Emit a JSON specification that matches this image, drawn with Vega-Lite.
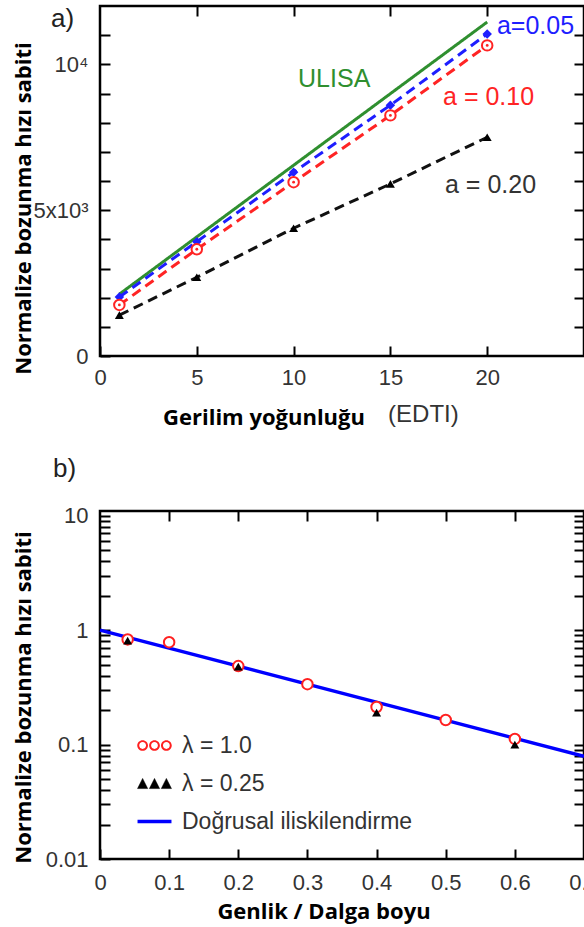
{
  "$schema": "https://vega.github.io/schema/vega-lite/v6.json",
  "padding": {"left": 10, "top": 3, "right": 0, "bottom": 0},
  "background": "white",
  "spacing": 24,
  "resolve": {"scale": {"color": "independent", "strokeDash": "independent"}},
  "config": {
    "view": {"stroke": "black", "strokeWidth": 2.5},
    "axis": {"grid": false, "domain": false, "tickColor": "black", "tickWidth": 2, "tickSize": -10, "labelFont": "Liberation Sans", "labelFontSize": 22, "labelColor": "#333333", "labelFlush": false, "labelOverlap": false, "labelBound": false, "titleFont": "Open Sans", "titleFontWeight": "bold", "titleFontSize": 22, "titleColor": "black"},
    "text": {"font": "Liberation Sans"}
  },
  "datasets": {
    "a": [
      {"s": "ULISA", "x": 1, "y": 2120}, {"s": "ULISA", "x": 20, "y": 11450},
      {"s": "a=0.05", "x": 1, "y": 2020}, {"s": "a=0.05", "x": 5, "y": 3920}, {"s": "a=0.05", "x": 10, "y": 6300}, {"s": "a=0.05", "x": 15, "y": 8600}, {"s": "a=0.05", "x": 20, "y": 11040},
      {"s": "a=0.10", "x": 1, "y": 1750}, {"s": "a=0.10", "x": 5, "y": 3660}, {"s": "a=0.10", "x": 10, "y": 5960}, {"s": "a=0.10", "x": 15, "y": 8250}, {"s": "a=0.10", "x": 20, "y": 10650},
      {"s": "a=0.20", "x": 1, "y": 1400}, {"s": "a=0.20", "x": 5, "y": 2700}, {"s": "a=0.20", "x": 10, "y": 4380}, {"s": "a=0.20", "x": 15, "y": 5900}, {"s": "a=0.20", "x": 20, "y": 7500}
    ],
    "b": [
      {"s": "λ = 1.0", "x": 0.04, "y": 0.83}, {"s": "λ = 1.0", "x": 0.1, "y": 0.785}, {"s": "λ = 1.0", "x": 0.2, "y": 0.485}, {"s": "λ = 1.0", "x": 0.3, "y": 0.337}, {"s": "λ = 1.0", "x": 0.4, "y": 0.213}, {"s": "λ = 1.0", "x": 0.5, "y": 0.164}, {"s": "λ = 1.0", "x": 0.6, "y": 0.112},
      {"s": "λ = 0.25", "x": 0.04, "y": 0.81}, {"s": "λ = 0.25", "x": 0.2, "y": 0.48}, {"s": "λ = 0.25", "x": 0.4, "y": 0.19}, {"s": "λ = 0.25", "x": 0.6, "y": 0.1}
    ],
    "fit": [{"x": 0, "y": 1.0}, {"x": 0.7, "y": 0.079}],
    "one": [{}]
  },
  "vconcat": [
    {
      "width": 484,
      "height": 350,
      "data": {"name": "a"},
      "layer": [
        {
          "mark": {"type": "line", "strokeWidth": 3},
          "encoding": {
            "x": {"field": "x", "type": "quantitative", "scale": {"domain": [0, 25], "nice": false, "zero": false}, "axis": {"orient": "bottom", "values": [0, 5, 10, 15, 20], "title": "Gerilim yoğunluğu", "titleX": 163.5, "titleY": 68, "titleBaseline": "alphabetic", "labelPadding": 21}},
            "y": {"field": "y", "type": "quantitative", "scale": {"domain": [0, 12000], "nice": false}, "axis": {"orient": "left", "values": [0, 1000, 2000, 3000, 4000, 5000, 6000, 7000, 8000, 9000, 10000, 11000], "labelExpr": "datum.value == 0 ? '0' : datum.value == 5000 ? '5x10³' : datum.value == 10000 ? '10⁴' : ''", "labelBaseline": "middle", "title": "Normalize bozunma hızı sabiti", "titleX": -77, "titleY": 202, "titleBaseline": "middle", "labelPadding": 22}},
            "color": {"field": "s", "type": "nominal", "scale": {"domain": ["ULISA", "a=0.05", "a=0.10", "a=0.20"], "range": ["#2f8f2f", "#1e1eff", "#ff2424", "#111111"]}, "legend": null},
            "strokeDash": {"field": "s", "type": "nominal", "scale": {"domain": ["ULISA", "a=0.05", "a=0.10", "a=0.20"], "range": [[1, 0], [10, 6], [10, 6], [10, 6]]}, "legend": null}
          }
        },
        {
          "transform": [{"filter": "datum.s == 'a=0.05'"}],
          "mark": {"type": "point", "shape": "diamond", "filled": true, "color": "#1e1eff", "size": 90, "opacity": 1},
          "encoding": {
            "x": {"field": "x", "type": "quantitative", "scale": {"domain": [0, 25], "nice": false, "zero": false}, "axis": {"orient": "top", "values": [5, 10, 15, 20], "labels": false, "title": null}},
            "y": {"field": "y", "type": "quantitative", "scale": {"domain": [0, 12000], "nice": false}, "axis": {"orient": "right", "values": [1000, 2000, 3000, 4000, 5000, 6000, 7000, 8000, 9000, 10000, 11000], "labels": false, "title": null}}
          }
        },
        {
          "transform": [{"filter": "datum.s == 'a=0.10'"}],
          "mark": {"type": "point", "shape": "circle", "filled": false, "fill": "white", "stroke": "#ff2424", "strokeWidth": 2, "size": 110, "opacity": 1},
          "encoding": {
            "x": {"field": "x", "type": "quantitative", "scale": {"domain": [0, 25], "nice": false, "zero": false}, "axis": null},
            "y": {"field": "y", "type": "quantitative", "scale": {"domain": [0, 12000], "nice": false}, "axis": null}
          }
        },
        {
          "transform": [{"filter": "datum.s == 'a=0.10'"}],
          "mark": {"type": "circle", "color": "#ff2424", "size": 8, "opacity": 1},
          "encoding": {
            "x": {"field": "x", "type": "quantitative", "scale": {"domain": [0, 25], "nice": false, "zero": false}, "axis": null},
            "y": {"field": "y", "type": "quantitative", "scale": {"domain": [0, 12000], "nice": false}, "axis": null}
          }
        },
        {
          "transform": [{"filter": "datum.s == 'a=0.20'"}],
          "mark": {"type": "point", "shape": "triangle-up", "filled": true, "color": "#000000", "size": 80, "opacity": 1},
          "encoding": {
            "x": {"field": "x", "type": "quantitative", "scale": {"domain": [0, 25], "nice": false, "zero": false}, "axis": null},
            "y": {"field": "y", "type": "quantitative", "scale": {"domain": [0, 12000], "nice": false}, "axis": null}
          }
        },
        {
          "data": {"name": "one"},
          "mark": {"type": "text", "text": "a=0.05", "align": "left", "baseline": "middle", "fontSize": 25, "color": "#1e1eff"},
          "encoding": {
            "x": {"datum": 20.5, "type": "quantitative", "scale": {"domain": [0, 25], "nice": false, "zero": false}, "axis": null},
            "y": {"datum": 11314, "type": "quantitative", "scale": {"domain": [0, 12000], "nice": false}, "axis": null}
          }
        },
        {
          "data": {"name": "one"},
          "mark": {"type": "text", "text": "a = 0.10", "align": "left", "baseline": "middle", "fontSize": 25, "color": "#ff2424"},
          "encoding": {
            "x": {"datum": 17.72, "type": "quantitative", "scale": {"domain": [0, 25], "nice": false, "zero": false}, "axis": null},
            "y": {"datum": 8880, "type": "quantitative", "scale": {"domain": [0, 12000], "nice": false}, "axis": null}
          }
        },
        {
          "data": {"name": "one"},
          "mark": {"type": "text", "text": "a = 0.20", "align": "left", "baseline": "middle", "fontSize": 25, "color": "#333333"},
          "encoding": {
            "x": {"datum": 17.82, "type": "quantitative", "scale": {"domain": [0, 25], "nice": false, "zero": false}, "axis": null},
            "y": {"datum": 5863, "type": "quantitative", "scale": {"domain": [0, 12000], "nice": false}, "axis": null}
          }
        },
        {
          "data": {"name": "one"},
          "mark": {"type": "text", "text": "ULISA", "align": "left", "baseline": "middle", "fontSize": 25, "color": "#2f8f2f"},
          "encoding": {
            "x": {"datum": 10.23, "type": "quantitative", "scale": {"domain": [0, 25], "nice": false, "zero": false}, "axis": null},
            "y": {"datum": 9497, "type": "quantitative", "scale": {"domain": [0, 12000], "nice": false}, "axis": null}
          }
        },
        {
          "data": {"name": "one"},
          "mark": {"type": "text", "text": "a)", "align": "left", "baseline": "middle", "fontSize": 26, "color": "#222222"},
          "encoding": {
            "x": {"datum": -2.53, "type": "quantitative", "scale": {"domain": [0, 25], "nice": false, "zero": false}, "axis": null},
            "y": {"datum": 11554, "type": "quantitative", "scale": {"domain": [0, 12000], "nice": false}, "axis": null}
          }
        },
        {
          "data": {"name": "one"},
          "mark": {"type": "text", "text": "(EDTI)", "align": "left", "baseline": "alphabetic", "fontSize": 24, "color": "#333333"},
          "encoding": {
            "x": {"datum": 14.88, "type": "quantitative", "scale": {"domain": [0, 25], "nice": false, "zero": false}, "axis": null},
            "y": {"datum": -2263, "type": "quantitative", "scale": {"domain": [0, 12000], "nice": false}, "axis": null}
          }
        }
      ],
      "resolve": {"axis": {"x": "independent", "y": "independent"}}
    },
    {
      "width": 484,
      "height": 348,
      "layer": [
        {
          "data": {"name": "fit"},
          "mark": {"type": "line", "color": "#0000ff", "strokeWidth": 3.5},
          "encoding": {
            "x": {"field": "x", "type": "quantitative", "scale": {"domain": [0, 0.7], "nice": false, "zero": false}, "axis": {"orient": "bottom", "values": [0, 0.1, 0.2, 0.3, 0.4, 0.5, 0.6, 0.7], "labelExpr": "datum.value == 0 ? '0' : format(datum.value, '.1f')", "title": "Genlik / Dalga boyu", "titleX": 223.5, "titleY": 59, "titleBaseline": "alphabetic", "labelPadding": 23}},
            "y": {"field": "y", "type": "quantitative", "scale": {"type": "log", "domain": [0.01, 11], "nice": false}, "axis": {"orient": "left", "values": [0.01, 0.02, 0.03, 0.04, 0.05, 0.06, 0.07, 0.08, 0.09, 0.1, 0.2, 0.3, 0.4, 0.5, 0.6, 0.7, 0.8, 0.9, 1, 2, 3, 4, 5, 6, 7, 8, 9, 10], "labelExpr": "datum.value == 10 ? '10' : datum.value == 1 ? '1' : datum.value == 0.1 ? '0.1' : datum.value == 0.01 ? '0.01' : ''", "labelBaseline": "middle", "title": "Normalize bozunma hızı sabiti", "titleX": -77, "titleY": 186, "titleBaseline": "middle", "labelPadding": 22}}
          }
        },
        {
          "data": {"name": "b"},
          "transform": [{"filter": "datum.s == 'λ = 1.0'"}],
          "mark": {"type": "point", "shape": "circle", "filled": false, "fill": "white", "strokeWidth": 2, "size": 110, "opacity": 1},
          "encoding": {
            "x": {"field": "x", "type": "quantitative", "scale": {"domain": [0, 0.7], "nice": false, "zero": false}, "axis": {"orient": "top", "values": [0.1, 0.2, 0.3, 0.4, 0.5, 0.6], "labels": false, "title": null}},
            "y": {"field": "y", "type": "quantitative", "scale": {"type": "log", "domain": [0.01, 11], "nice": false}, "axis": {"orient": "right", "values": [0.02, 0.03, 0.04, 0.05, 0.06, 0.07, 0.08, 0.09, 0.1, 0.2, 0.3, 0.4, 0.5, 0.6, 0.7, 0.8, 0.9, 1, 2, 3, 4, 5, 6, 7, 8, 9, 10], "labels": false, "title": null}},
            "color": {
              "field": "s", "type": "nominal",
              "scale": {"domain": ["λ = 1.0", "λ = 0.25", "Doğrusal iliskilendirme"], "range": ["#ff2020", "#000000", "#0000ff"]},
              "legend": {
                "orient": "none", "direction": "vertical", "legendX": 43, "legendY": 223, "title": null,
                "symbolSize": 128, "labelFont": "Liberation Sans", "labelFontSize": 23, "labelColor": "#333333", "labelOffset": 16, "rowPadding": 14, "labelLimit": 400,
                "encoding": {
                  "symbols": {
                    "shape": {"value": {"expr": "datum.value === 'λ = 1.0' ? 'M-3.05,0a0.95,0.95 0 1,0 1.9,0a0.95,0.95 0 1,0 -1.9,0ZM-2.7,0a0.6,0.6 0 1,1 1.2,0a0.6,0.6 0 1,1 -1.2,0ZM-0.95,0a0.95,0.95 0 1,0 1.9,0a0.95,0.95 0 1,0 -1.9,0ZM-0.6,0a0.6,0.6 0 1,1 1.2,0a0.6,0.6 0 1,1 -1.2,0ZM1.15,0a0.95,0.95 0 1,0 1.9,0a0.95,0.95 0 1,0 -1.9,0ZM1.5,0a0.6,0.6 0 1,1 1.2,0a0.6,0.6 0 1,1 -1.2,0Z' : datum.value === 'λ = 0.25' ? 'M-3,0.9L-2.1,-0.9L-1.2,0.9ZM-0.9,0.9L0,-0.9L0.9,0.9ZM1.2,0.9L2.1,-0.9L3,0.9Z' : 'M-3,0L3,0'"}},
                    "stroke": {"value": {"expr": "datum.value === 'λ = 1.0' ? '#ff2020' : datum.value === 'λ = 0.25' ? '#000000' : '#0000ff'"}},
                    "strokeWidth": {"value": {"expr": "datum.value === 'λ = 1.0' ? 0 : datum.value === 'λ = 0.25' ? 0.5 : 3.5"}},
                    "opacity": {"value": 1}
                  }
                }
              }
            }
          }
        },
        {
          "data": {"name": "b"},
          "transform": [{"filter": "datum.s == 'λ = 0.25'"}],
          "mark": {"type": "point", "shape": "triangle-up", "filled": true, "size": 80, "opacity": 1},
          "encoding": {
            "x": {"field": "x", "type": "quantitative", "scale": {"domain": [0, 0.7], "nice": false, "zero": false}, "axis": null},
            "y": {"field": "y", "type": "quantitative", "scale": {"type": "log", "domain": [0.01, 11], "nice": false}, "axis": null},
            "color": {"field": "s", "type": "nominal", "scale": {"domain": ["λ = 1.0", "λ = 0.25", "Doğrusal iliskilendirme"], "range": ["#ff2020", "#000000", "#0000ff"]}}
          }
        },
        {
          "data": {"name": "one"},
          "mark": {"type": "text", "text": "b)", "align": "left", "baseline": "middle", "fontSize": 26, "color": "#222222"},
          "encoding": {
            "x": {"datum": -0.068, "type": "quantitative", "scale": {"domain": [0, 0.7], "nice": false, "zero": false}, "axis": null},
            "y": {"datum": 25.5, "type": "quantitative", "scale": {"type": "log", "domain": [0.01, 11], "nice": false}, "axis": null}
          }
        }
      ],
      "resolve": {"axis": {"x": "independent", "y": "independent"}}
    }
  ]
}
